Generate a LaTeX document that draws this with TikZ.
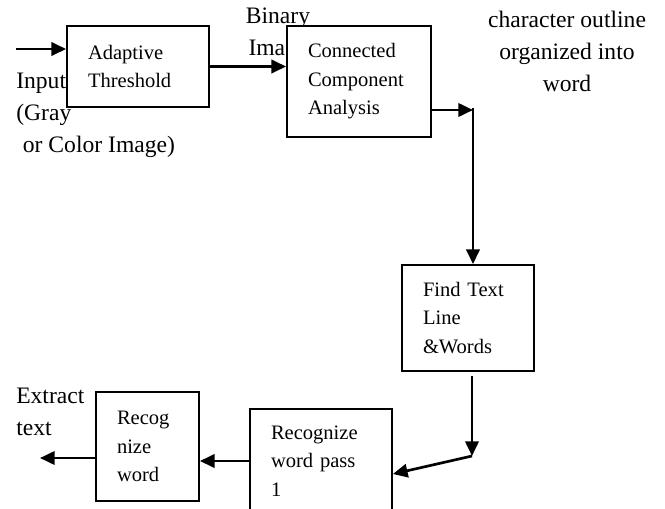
\documentclass[tikz,border=0pt]{standalone}
\usepackage{fontspec}
\setmainfont{Liberation Serif}
\usepackage{tikz}
\usetikzlibrary{positioning,arrows.meta,calc}
\tikzset{
  box/.style={draw=black, line width=1.4pt, fill=white, align=left, inner xsep=15.75pt, inner ysep=0pt, font=\fontsize{15.4}{21.4}\selectfont},
  lbl/.style={inner sep=0pt, font=\fontsize{17.7}{24}\selectfont},
  arr/.style={-{Triangle[length=11pt, width=10pt]}, line width=2pt, draw=black},
}

\begin{document}
\begin{tikzpicture}[x=0.75pt, y=-0.75pt]
    \clip (0,0) rectangle (665,508);
    % labels outside the boxes
    \node[lbl, align=center] (binlbl) at (278,34) {Binary\\Image};
    \node[lbl, align=left, anchor=west] (inlbl) at (16,115) {Input\\(Gray\\\hspace*{5pt}or Color Image)};
    \node[lbl, align=center] (charlbl) at (567,51) {character outline\\organized into\hspace*{16pt}\\word};
    \node[lbl, align=left, anchor=west] (extlbl) at (16,412) {Extract\\text};
    % process boxes
    \node[box, text width=75pt, minimum height=60.75pt] (thresh) at (138,66.5) {Adaptive\\Threshold};
    \node[box, text width=76.5pt, minimum height=83.25pt] (cca) at (359,81.5) {Connected\\Component\\Analysis};
    \node[box, text width=67.5pt, minimum height=79.5pt] (find) at (468,318) {Find Text\\Line\\\&Words};
    \node[box, text width=75pt, minimum height=78pt] (pass1) at (321,461) {Recognize\\word pass\\1};
    \node[box, text width=45.75pt, minimum height=81.75pt] (recog) at (147.5,446.5) {Recog\\nize\\word};
    % connectors
    \coordinate (in) at (16,49);
    \coordinate (c1) at (473,110);
    \coordinate (c2) at (472,456);
    \coordinate (out) at (40,458);
    \draw[arr] (in) -- (in -| thresh.west);
    \draw[arr] (thresh.east) -- (cca.west |- thresh.east);
    \draw[arr] (c1 -| cca.east) -- (c1);
    \draw[arr] ($(c1)+(0,-2)$) -- (c1 |- find.north);
    \draw[arr] ($(find.south -| c2)+(0,4)$) -- (c2);
    \draw[arr] (c2) -- ($(pass1.east)+(0,13)$);
    \draw[arr] (pass1.west) -- (recog.east |- pass1.west);
    \draw[arr] (recog.west |- out) -- (out);
  \end{tikzpicture}
\end{document}
